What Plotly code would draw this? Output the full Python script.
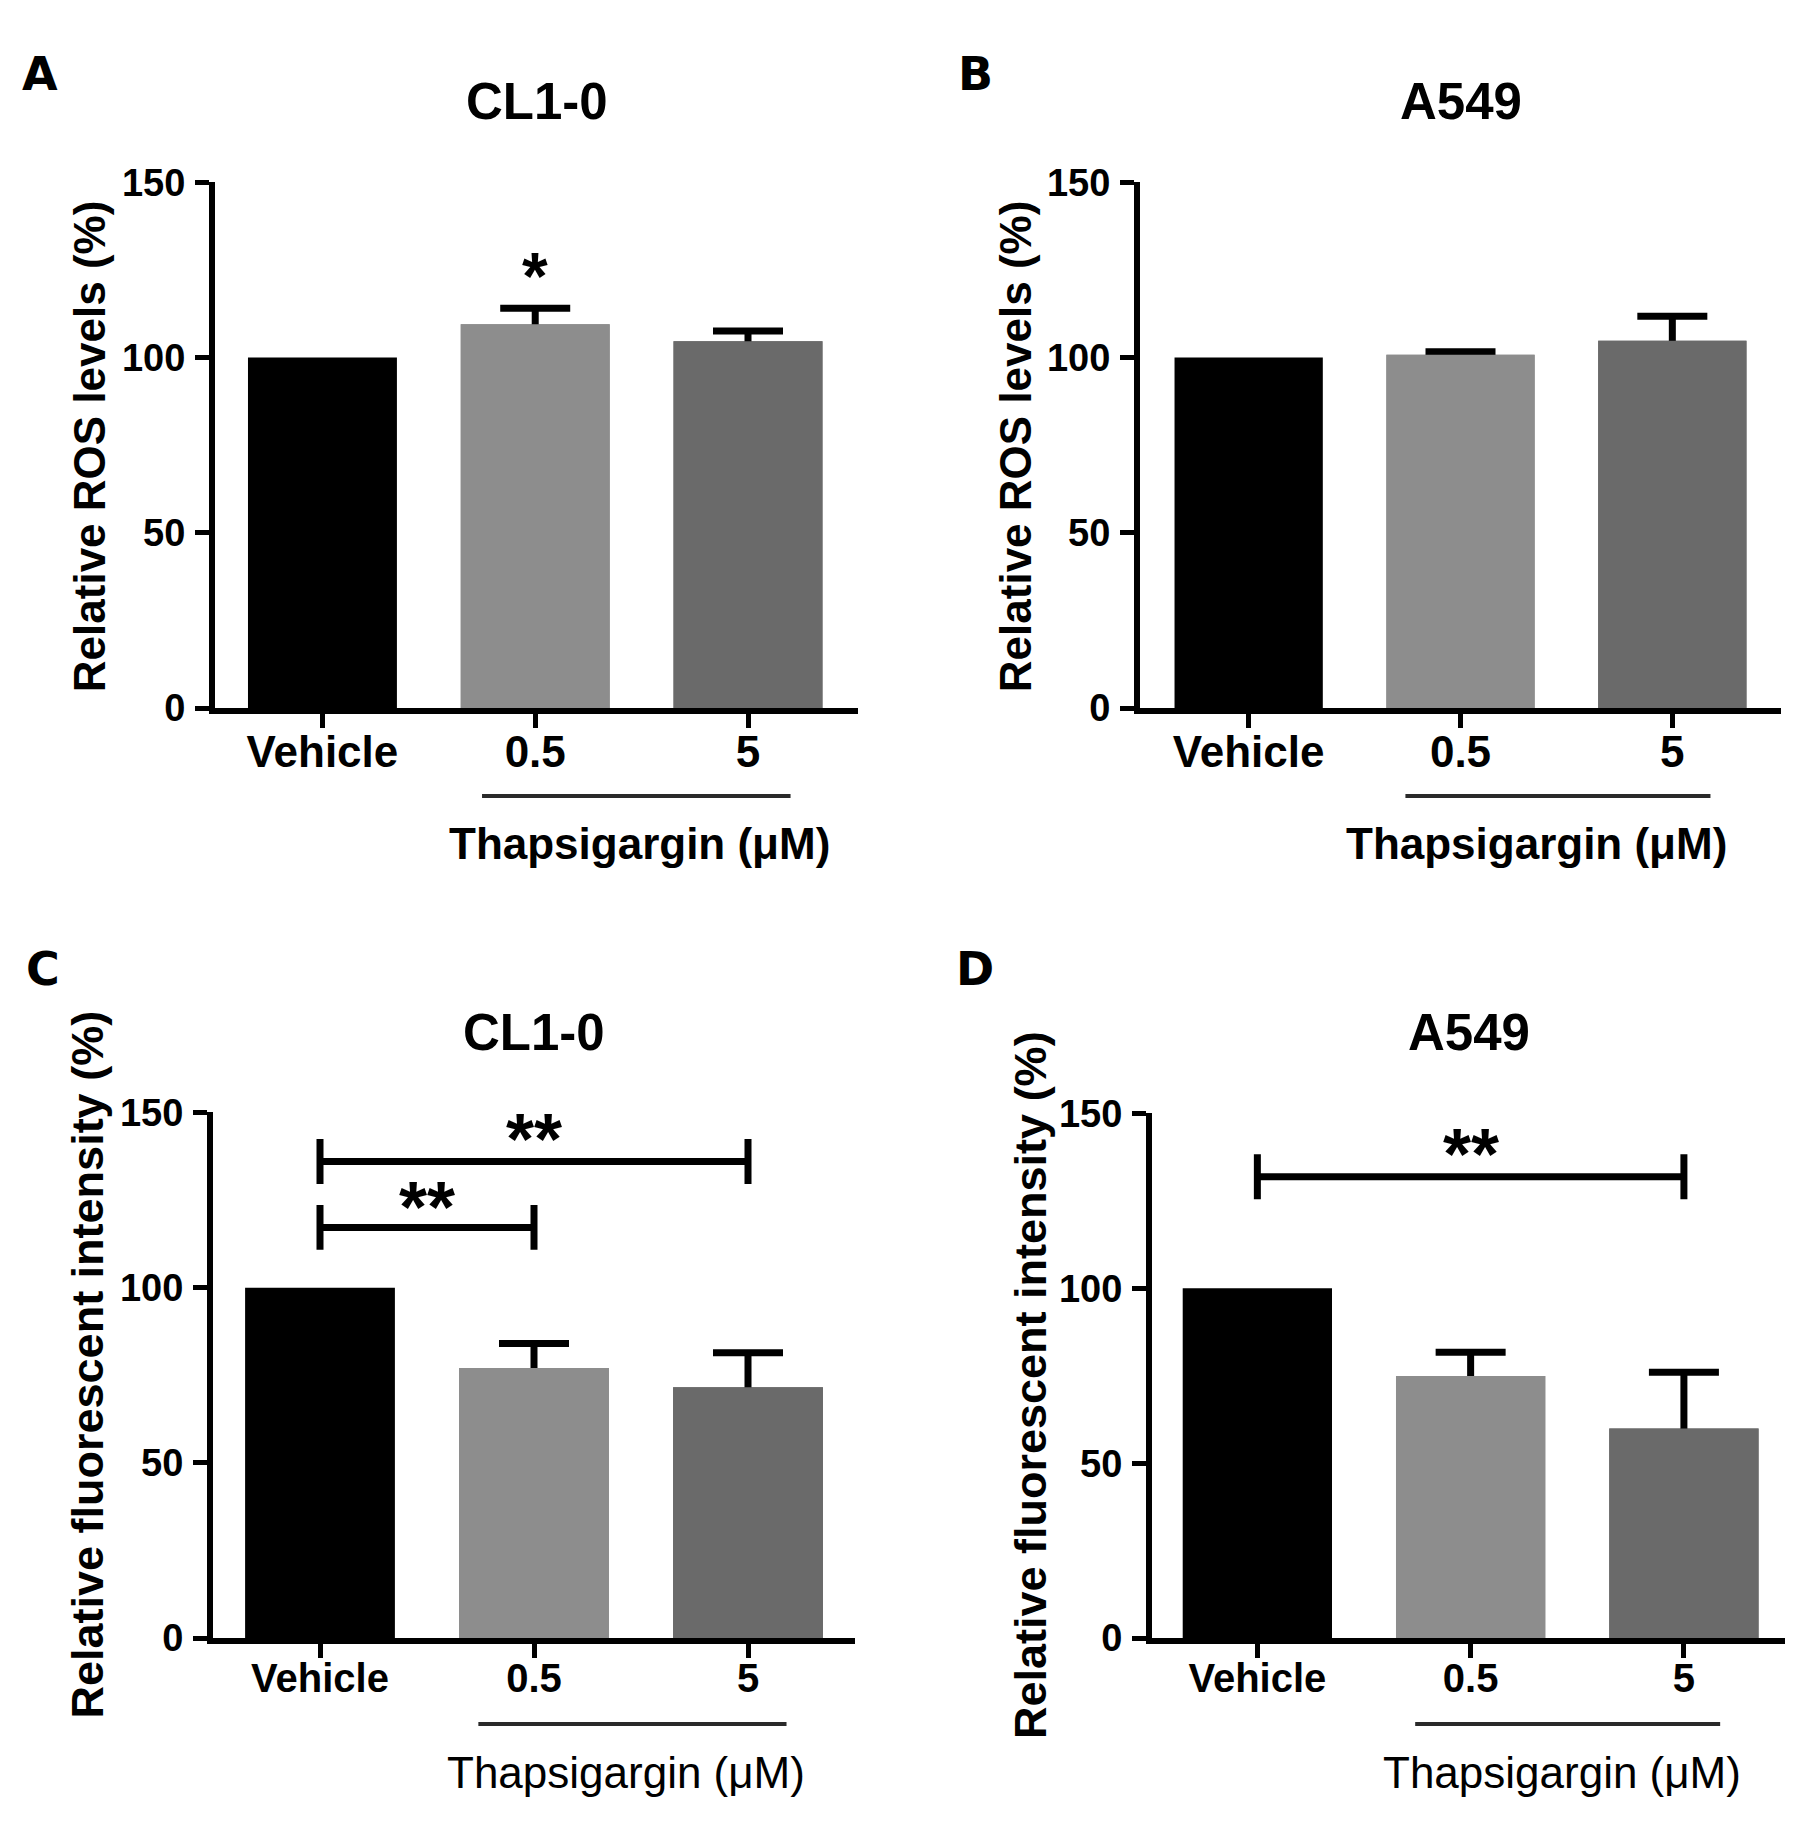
import plotly.graph_objects as go

# data (mean, SEM)
categories = ["Vehicle", "0.5", "5"]

ros_cl10 = [100, 109.5, 104.7]
ros_cl10_sem = [None, 4.6, 2.9]
ros_a549 = [100, 100.8, 104.8]
ros_a549_sem = [None, 0.9, 7]

fluo_cl10 = [100, 77.1, 71.6]
fluo_cl10_sem = [None, 7, 9.8]
fluo_a549 = [100, 74.9, 59.9]
fluo_a549_sem = [None, 6.8, 16.1]

# significance: (from, to, bracket height, label height, label); from == to -> mark over one bar
sig_a = [(1, 1, None, 124.8, "*")]
sig_b = []
sig_c = [(0, 1, 117.2, 124.6, "**"), (0, 2, 136, 144.1, "**")]
sig_d = [(0, 2, 131.9, 140.1, "**")]

bar_colors = ["#000000", "#8d8d8d", "#6a6a6a"]
FONT = "Liberation Sans, Arial, sans-serif"
W, H = 1795, 1825

panels = [
    dict(letter="A", title="CL1-0", ytitle="Relative ROS levels (%)",
         y=ros_cl10, err=ros_cl10_sem, sig=sig_a, bold_drug=True,
         px=(207, 850), py=(157, 695), rng=(-0.505, 2.517), xfont=44, yt_font=44,
         letter_xy=(32, 46), title_y=74, ytitle_xy=(81, 427),
         drug_line=(0.75, 2.2, 785), drug_text=(1.49, 834)),
    dict(letter="B", title="A549", ytitle="Relative ROS levels (%)",
         y=ros_a549, err=ros_a549_sem, sig=sig_b, bold_drug=True,
         px=(1132, 1773), py=(157, 695), rng=(-0.513, 2.513), xfont=44, yt_font=44,
         letter_xy=(967, 46), title_y=74, ytitle_xy=(1007, 427),
         drug_line=(0.74, 2.18, 785), drug_text=(1.36, 834)),
    dict(letter="C", title="CL1-0", ytitle="Relative fluorescent intensity (%)",
         y=fluo_cl10, err=fluo_cl10_sem, sig=sig_c, bold_drug=False,
         px=(205, 847), py=(1109, 1647), rng=(-0.5, 2.5), xfont=40, yt_font=45,
         letter_xy=(35, 962), title_y=1027, ytitle_xy=(80, 1367),
         drug_line=(0.74, 2.18, 1735), drug_text=(1.43, 1785)),
    dict(letter="D", title="A549", ytitle="Relative fluorescent intensity (%)",
         y=fluo_a549, err=fluo_a549_sem, sig=sig_d, bold_drug=False,
         px=(1144, 1777), py=(1110, 1647), rng=(-0.494, 2.474), xfont=40, yt_font=45,
         letter_xy=(967, 962), title_y=1027, ytitle_xy=(1022, 1388),
         drug_line=(0.74, 2.17, 1735), drug_text=(1.43, 1785)),
]

fig = go.Figure()
shapes = []
annotations = []
xpos = list(range(len(categories)))


def bold(size, weight="bold", family=FONT):
    return dict(family=family, size=size, color="black", weight=weight)


for i, p in enumerate(panels):
    n = "" if i == 0 else str(i + 1)
    xa, ya = "x" + n, "y" + n
    # error bars first, then the same bars on top so only the upper half shows
    idx = [k for k, e in enumerate(p["err"]) if e is not None]
    fig.add_trace(go.Bar(
        x=[xpos[k] for k in idx], y=[p["y"][k] for k in idx],
        marker=dict(color=[bar_colors[k] for k in idx], line=dict(width=0)),
        width=0.7, xaxis=xa, yaxis=ya, showlegend=False, hoverinfo="skip",
        error_y=dict(type="data", array=[p["err"][k] for k in idx],
                     color="black", thickness=7, width=35)))
    fig.add_trace(go.Bar(
        x=xpos, y=p["y"], marker=dict(color=bar_colors, line=dict(width=0)),
        width=0.7, xaxis=xa, yaxis=ya, showlegend=False))

    x0, x1 = p["px"]
    ytop, ybot = p["py"]
    fig.update_layout({
        "xaxis" + n: dict(domain=[x0 / W, x1 / W], range=list(p["rng"]),
                          anchor=ya, tickvals=xpos, ticktext=categories,
                          showline=True, linewidth=6, linecolor="black",
                          ticks="outside", ticklen=14, tickwidth=5, tickcolor="black",
                          ticklabelstandoff=-14,
                          showgrid=False, zeroline=False, fixedrange=True,
                          tickfont=bold(p["xfont"])),
        "yaxis" + n: dict(domain=[1 - ybot / H, 1 - ytop / H], range=[0, 150],
                          anchor=xa, tickvals=[0, 50, 100, 150],
                          showline=True, linewidth=6, linecolor="black",
                          ticks="outside", ticklen=14, tickwidth=5, tickcolor="black",
                          ticklabelstandoff=2,
                          showgrid=False, zeroline=False, fixedrange=True,
                          tickfont=bold(38)),
    })

    lx, ly = p["letter_xy"]
    annotations.append(dict(text=p["letter"], x=lx / W, y=1 - ly / H, xref="paper", yref="paper",
                            showarrow=False, xanchor="center", yanchor="middle",
                            font=bold(46, family="DejaVu Sans, sans-serif")))
    annotations.append(dict(text=p["title"], x=(x0 + x1) / 2 / W, y=1 - p["title_y"] / H,
                            xref="paper", yref="paper", showarrow=False,
                            xanchor="center", yanchor="middle", font=bold(51)))
    tx, ty = p["ytitle_xy"]
    annotations.append(dict(text=p["ytitle"], x=tx / W, y=1 - ty / H, xref="paper", yref="paper",
                            showarrow=False, textangle=-90, xanchor="center", yanchor="middle",
                            font=bold(p["yt_font"])))

    # drug bracket under the treated groups
    d0, d1, dy = p["drug_line"]
    shapes.append(dict(type="line", xref=xa, yref="paper", x0=d0, x1=d1,
                       y0=1 - dy / H, y1=1 - dy / H, line=dict(color="#2a2a2a", width=4)))
    dtx, dty = p["drug_text"]
    annotations.append(dict(text="Thapsigargin (μM)", x=dtx, y=1 - dty / H,
                            xref=xa, yref="paper", showarrow=False,
                            xanchor="center", yanchor="middle",
                            font=bold(44, "bold" if p["bold_drug"] else "normal")))

    # significance marks
    for a, b, h, lh, lab in p["sig"]:
        if h is not None:
            for seg in [(a, b, h, h), (a, a, h - 6.4, h + 6.4), (b, b, h - 6.4, h + 6.4)]:
                shapes.append(dict(type="line", xref=xa, yref=ya,
                                   x0=seg[0], x1=seg[1], y0=seg[2], y1=seg[3],
                                   line=dict(color="black", width=7)))
        fs = 72 if len(lab) > 1 else 66
        annotations.append(dict(text=lab, x=(a + b) / 2, y=lh, xref=xa, yref=ya,
                                showarrow=False, xanchor="center", yanchor="middle",
                                yshift=-0.08 * fs, font=bold(fs)))

fig.update_layout(width=W, height=H, margin=dict(l=0, r=0, t=0, b=0),
                  paper_bgcolor="white", plot_bgcolor="white",
                  barmode="overlay", bargap=0.3,
                  shapes=shapes, annotations=annotations)

fig.write_html("out.html")
